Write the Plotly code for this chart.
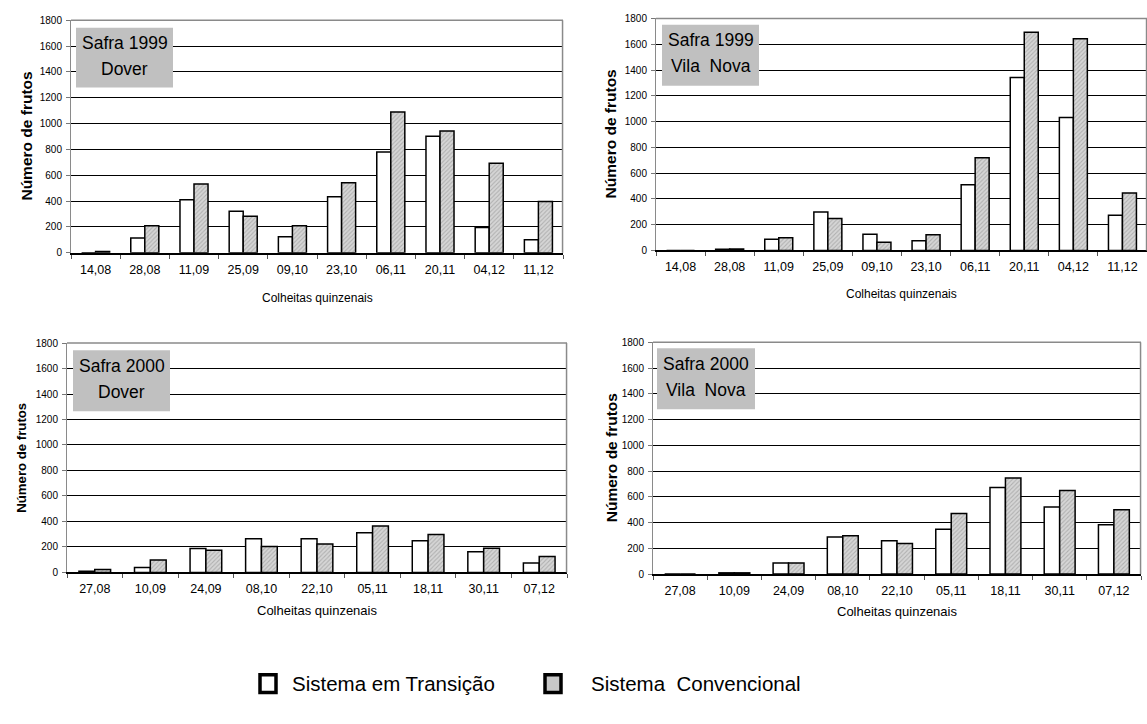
import plotly.graph_objects as go

# Quinzenal harvest dates per season
datas_1999 = ["14,08", "28,08", "11,09", "25,09", "09,10", "23,10", "06,11", "20,11", "04,12", "11,12"]
datas_2000 = ["27,08", "10,09", "24,09", "08,10", "22,10", "05,11", "18,11", "30,11", "07,12"]

# Number of fruits: Sistema em Transição (transicao) and Sistema Convencional (convencional)
dover_1999_transicao = [0, 114, 410, 321, 124, 435, 781, 902, 197, 101]
dover_1999_convencional = [10, 210, 533, 283, 210, 543, 1090, 943, 693, 397]

vilanova_1999_transicao = [0, 8, 87, 298, 125, 74, 509, 1342, 1031, 272]
vilanova_1999_convencional = [0, 10, 99, 247, 64, 122, 720, 1693, 1642, 446]

dover_2000_transicao = [10, 39, 188, 265, 265, 311, 249, 162, 75]
dover_2000_convencional = [23, 98, 175, 203, 224, 365, 298, 190, 126]

vilanova_2000_transicao = [0, 10, 87, 288, 260, 349, 672, 522, 384]
vilanova_2000_convencional = [0, 10, 87, 298, 237, 471, 746, 649, 499]

y_ticks = [0, 200, 400, 600, 800, 1000, 1200, 1400, 1600, 1800]

W, H = 1147, 724
FONT = "Liberation Sans, Arial, sans-serif"


def px_x(p):
    return p / W


def px_y(p):
    return 1 - p / H


# pixel layout of the four panels
panels = [
    dict(cats=datas_1999, a=dover_1999_transicao, b=dover_1999_convencional,
         x0=71, x1=563, y0=251, y1=14.5, box=(76, 22, 173, 83),
         lines=["Safra 1999", "Dover"], ytitle_x=27, xtitle_y=297, ytsize=15.5, xtsize=12),
    dict(cats=datas_1999, a=vilanova_1999_transicao, b=vilanova_1999_convencional,
         x0=656, x1=1147, y0=248.5, y1=12.7, box=(662, 19, 759, 81),
         lines=["Safra 1999", "Vila\u00a0 Nova"], ytitle_x=610, xtitle_y=293, ytsize=15.5, xtsize=12),
    dict(cats=datas_2000, a=dover_2000_transicao, b=dover_2000_convencional,
         x0=67, x1=567, y0=576, y1=342.7, box=(73, 350, 170, 412),
         lines=["Safra 2000", "Dover"], ytitle_x=22, xtitle_y=615, ytsize=13.2, xtsize=13),
    dict(cats=datas_2000, a=vilanova_2000_transicao, b=vilanova_2000_convencional,
         x0=653, x1=1141, y0=577.7, y1=342, box=(657, 348, 755, 410),
         lines=["Safra 2000", "Vila\u00a0 Nova"], ytitle_x=611, xtitle_y=616, ytsize=15.5, xtsize=13),
]

fig = go.Figure()
shapes = []
annotations = []

gray_marker = dict(
    color="#d0d0d0",
    pattern=dict(shape="/", fgcolor="#8a8a8a", bgcolor="#d6d6d6", size=3, solidity=0.35),
    line=dict(color="black", width=1.5),
)
white_marker = dict(color="white", line=dict(color="black", width=1.5))

for i, p in enumerate(panels, start=1):
    xa = "x" if i == 1 else f"x{i}"
    ya = "y" if i == 1 else f"y{i}"
    fig.add_trace(go.Bar(x=p["cats"], y=p["a"], name="Sistema em Transição", marker=white_marker,
                         xaxis=xa, yaxis=ya, showlegend=False, offsetgroup="a"))
    fig.add_trace(go.Bar(x=p["cats"], y=p["b"], name="Sistema Convencional", marker=gray_marker,
                         xaxis=xa, yaxis=ya, showlegend=False, offsetgroup="b"))

    xkey = "xaxis" if i == 1 else f"xaxis{i}"
    ykey = "yaxis" if i == 1 else f"yaxis{i}"
    fig.layout[xkey] = dict(
        domain=[px_x(p["x0"]), px_x(p["x1"])], anchor=ya, type="category",
        tickson="boundaries", ticks="outside", ticklen=4, tickcolor="#555",
        showline=True, linecolor="black", linewidth=2, showgrid=False, zeroline=False,
        tickfont=dict(family=FONT, size=12.5, color="black"), ticklabelstandoff=4,
        fixedrange=True,
    )
    fig.layout[ykey] = dict(
        domain=[px_y(p["y0"]), px_y(p["y1"])], anchor=xa, range=[0, 1800],
        tickvals=y_ticks, ticks="outside", ticklen=4, tickcolor="#777",
        showline=True, linecolor="#8a8a8a", linewidth=1, showgrid=True, gridcolor="black",
        gridwidth=1, zeroline=False, tickfont=dict(family=FONT, size=10, color="black"),
        ticklabelstandoff=2, fixedrange=True,
    )

    # plot-area border (top and right)
    shapes.append(dict(type="line", xref="paper", yref="paper",
                       x0=px_x(p["x0"]), x1=px_x(p["x1"]), y0=px_y(p["y1"]), y1=px_y(p["y1"]),
                       line=dict(color="#8a8a8a", width=1.5), layer="above"))
    shapes.append(dict(type="line", xref="paper", yref="paper",
                       x0=px_x(p["x1"]) - 0.0004, x1=px_x(p["x1"]) - 0.0004,
                       y0=px_y(p["y0"]), y1=px_y(p["y1"]),
                       line=dict(color="#8a8a8a", width=1.5), layer="above"))

    # season / site label box
    bx0, by0, bx1, by1 = p["box"]
    shapes.append(dict(type="rect", xref="paper", yref="paper",
                       x0=px_x(bx0), x1=px_x(bx1), y0=px_y(by1), y1=px_y(by0),
                       fillcolor="#c0c0c0", line=dict(width=0), layer="above"))
    cx = px_x((bx0 + bx1) / 2)
    for k, line in enumerate(p["lines"]):
        annotations.append(dict(xref="paper", yref="paper", x=cx, y=px_y(by0 + 16 + 26 * k),
                                text=line, showarrow=False, xanchor="center", yanchor="middle",
                                font=dict(family=FONT, size=17.5, color="black")))

    # axis titles
    annotations.append(dict(xref="paper", yref="paper", x=px_x(p["ytitle_x"]),
                            y=px_y((p["y0"] + p["y1"]) / 2), text="<b>Número de frutos</b>",
                            textangle=-90, showarrow=False, xanchor="center", yanchor="middle",
                            font=dict(family=FONT, size=p["ytsize"], color="black")))
    annotations.append(dict(xref="paper", yref="paper", x=px_x((p["x0"] + p["x1"]) / 2),
                            y=px_y(p["xtitle_y"]), text="Colheitas quinzenais",
                            showarrow=False, xanchor="center", yanchor="middle",
                            font=dict(family=FONT, size=p["xtsize"], color="black")))

# legend drawn below the panels
LEG_Y = 689
shapes.append(dict(type="rect", xref="paper", yref="paper",
                   x0=px_x(260), x1=px_x(276), y0=px_y(LEG_Y + 9), y1=px_y(LEG_Y - 9),
                   fillcolor="white", line=dict(color="black", width=3.5)))
shapes.append(dict(type="rect", xref="paper", yref="paper",
                   x0=px_x(545), x1=px_x(561), y0=px_y(LEG_Y + 9), y1=px_y(LEG_Y - 9),
                   fillcolor="#c8c8c8", line=dict(color="black", width=3.5)))
annotations.append(dict(xref="paper", yref="paper", x=px_x(290), y=px_y(LEG_Y),
                        text="Sistema em Transição", showarrow=False, xanchor="left",
                        yanchor="middle", font=dict(family=FONT, size=20.5, color="black")))
annotations.append(dict(xref="paper", yref="paper", x=px_x(589), y=px_y(LEG_Y),
                        text="Sistema\u00a0 Convencional", showarrow=False, xanchor="left",
                        yanchor="middle", font=dict(family=FONT, size=20.5, color="black")))

fig.update_layout(
    width=W, height=H, margin=dict(l=0, r=0, t=0, b=0),
    paper_bgcolor="white", plot_bgcolor="white",
    barmode="group", bargap=0.43, bargroupgap=0,
    shapes=shapes, annotations=annotations, showlegend=False,
    font=dict(family=FONT, color="black"),
)

fig.write_html("out.html", config={"displayModeBar": False})
